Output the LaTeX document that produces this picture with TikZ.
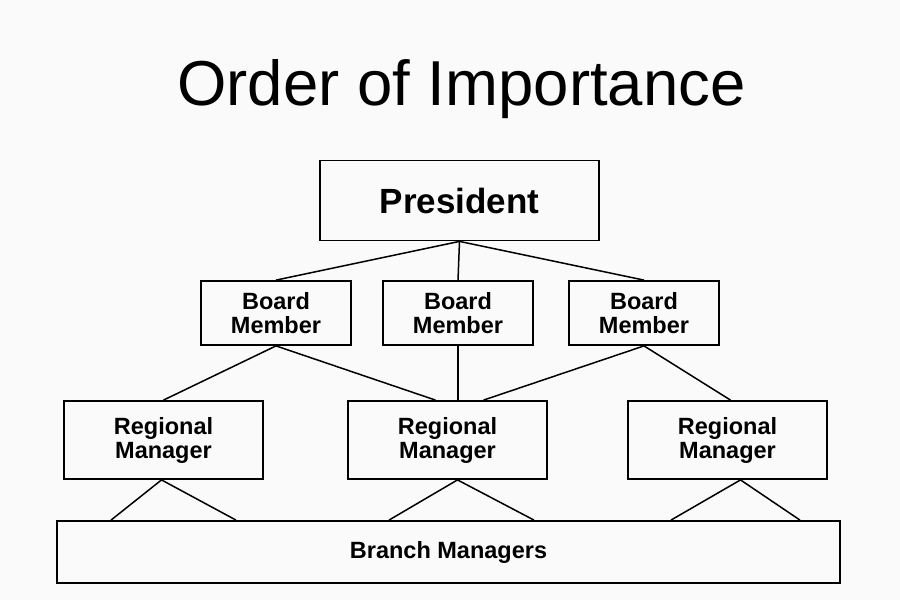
\documentclass[tikz,border=0pt]{standalone}
\usepackage{fontspec}
\setmainfont{Liberation Sans}
\usepackage{tikz}
\usetikzlibrary{positioning,calc}

\begin{document}
\begin{tikzpicture}[x=1pt, y=-1pt,
    box/.style={draw, line width=1.8pt, fill=white!98!black, inner sep=0pt, align=center},
    smallbox/.style={box, font=\bfseries\fontsize{23.5}{24}\selectfont},
    link/.style={line width=1.5pt}]
    \fill[white!98!black] (0,0) rectangle (900,600);
    \useasboundingbox (0,0) rectangle (900,600);

    \node[anchor=base, font=\fontsize{63.5}{70}\selectfont] (title) at (461.5,105) {Order of Importance};

    % Boxes
    \node[box, minimum width=279pt, minimum height=80pt, font=\bfseries\fontsize{35}{40}\selectfont] (pres) at (459.5,200.5) {President};

    \node[smallbox, minimum width=150pt, minimum height=64pt] (bl) at (276,313) {Board\\Member};
    \node[smallbox, minimum width=150pt, minimum height=64pt] (bm) at (458,313) {Board\\Member};
    \node[smallbox, minimum width=150pt, minimum height=64pt] (br) at (644,313) {Board\\Member};

    \node[smallbox, minimum width=199pt, minimum height=78pt] (rl) at (163.5,440) {Regional\\Manager};
    \node[smallbox, minimum width=199pt, minimum height=78pt] (rm) at (447.5,440) {Regional\\Manager};
    \node[smallbox, minimum width=199pt, minimum height=78pt] (rr) at (727.5,440) {Regional\\Manager};

    \node[smallbox, minimum width=783pt, minimum height=62pt] (branch) at (448.5,552) {Branch Managers};

    % President to board
    \foreach \b in {bl, bm, br} {
        \draw[link] (pres.south) -- (\b.north);
    }

    % Board to regional
    \draw[link] (bl.south) -- (rl.north);
    \draw[link] (bl.south) -- ($(rm.north)+(-12,0)$);
    \draw[link] (bm.south) -- (bm.south |- rm.north);
    \draw[link] (br.south) -- ($(rm.north)+(36,0)$);
    \draw[link] (br.south) -- ($(rr.north)+(3,0)$);

    % Regional to branch
    \foreach \n/\x in {f1/111, f2/236, f3/389, f4/534, f5/671, f6/800} {
        \coordinate (\n) at (branch.north -| \x,0);
    }
    \foreach \r/\dx/\a/\b in {rl/-2/f1/f2, rm/10/f3/f4, rr/13/f5/f6} {
        \draw[link] (\a) -- ([xshift=\dx pt]\r.south) -- (\b);
    }
\end{tikzpicture}
\end{document}
